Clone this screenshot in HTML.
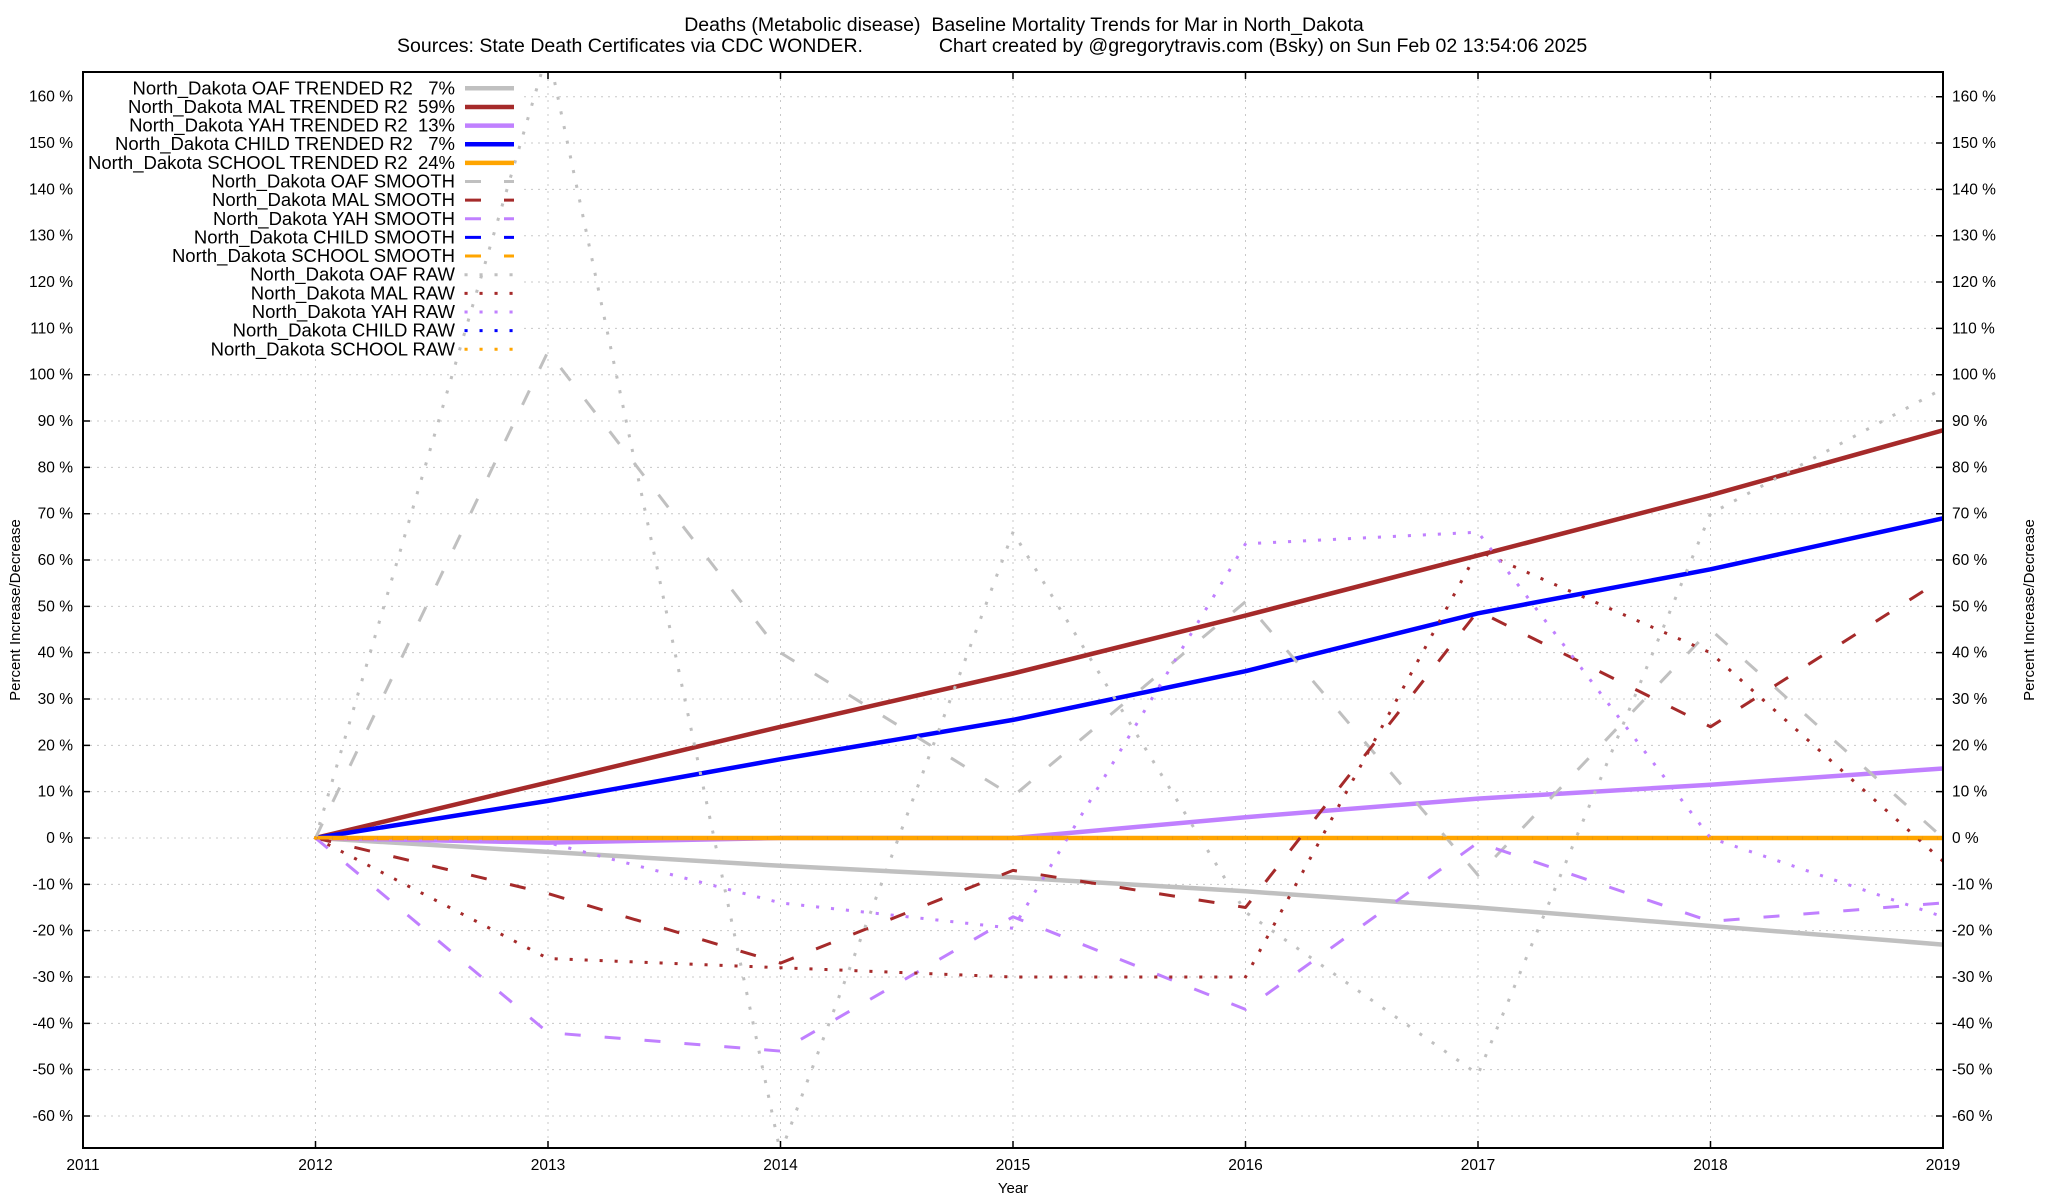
<!DOCTYPE html>
<html><head><meta charset="utf-8"><style>
html,body{margin:0;padding:0;background:#fff;}
svg{display:block;font-family:"Liberation Sans",sans-serif;}
text{white-space:pre;}
</style></head><body>
<svg id="chart" width="2048" height="1200" xmlns="http://www.w3.org/2000/svg">
<text x="1024" y="31" font-size="19.5" text-anchor="middle">Deaths (Metabolic disease)  Baseline Mortality Trends for Mar in North_Dakota</text>
<text x="397" y="52" font-size="19.5">Sources: State Death Certificates via CDC WONDER.              Chart created by @gregorytravis.com (Bsky) on Sun Feb 02 13:54:06 2025</text>
<text x="1013" y="1193" font-size="15" text-anchor="middle">Year</text>
<text transform="translate(20,610) rotate(-90)" font-size="15" text-anchor="middle">Percent Increase/Decrease</text>
<text transform="translate(2034,610) rotate(-90)" font-size="15" text-anchor="middle">Percent Increase/Decrease</text>
<g id="grid"></g><g id="axes"></g><g id="legendbg"></g><g id="series"></g><g id="legend"></g>
<rect x="83" y="72" width="1860" height="1076" fill="none" stroke="#000" stroke-width="2"/>
</svg>
<script>
const years = [2012,2013,2014,2015,2016,2017,2018,2019];
const xTicks = [2011,2012,2013,2014,2015,2016,2017,2018,2019];
const yTicks = [-60,-50,-40,-30,-20,-10,0,10,20,30,40,50,60,70,80,90,100,110,120,130,140,150,160];
const oafTrend = [0,-3,-6,-8.5,-11.5,-15,-19,-23];
const malTrend = [0,12,24,35.5,48,61,74,88];
const yahTrend = [0,-1,0,0,4.5,8.5,11.5,15];
const childTrend = [0,8,17,25.5,36,48.5,58,69];
const schoolTrend = [0,0,0,0,0,0,0,0];
const oafSmooth = [0,105,40,9,51,-8,45,0];
const malSmooth = [0,-12,-27,-7,-15,49,24,56];
const yahSmooth = [0,-42,-46,-17,-37,-1,-18,-14];
const childSmooth = [0,0,0,0,0,0,0,0];
const schoolSmooth = [0,0,0,0,0,0,0,0];
const oafRaw = [0,170,-68,66,-16,-51,70,97];
const malRaw = [0,-26,-28,-30,-30,62,40,-5];
const yahRaw = [0,-1,-14,-19.5,63.5,66,0,-17];
const childRaw = [0,0,0,0,0,0,0,0];
const schoolRaw = [0,0,0,0,0,0,0,0];

const L=83,R=1943,T=72,B=1148;
const xS=y=>L+(y-2011)*(R-L)/8;
const yS=v=>838-v*4.633;
const NS="http://www.w3.org/2000/svg";
function mk(tag,attrs,parent){const e=document.createElementNS(NS,tag);for(const k in attrs)e.setAttribute(k,attrs[k]);parent.appendChild(e);return e;}
const grid=document.getElementById('grid'),axes=document.getElementById('axes');
xTicks.forEach(t=>{
  const x=xS(t);
  const g=mk('line',{x1:x,x2:x,y1:T,y2:B,stroke:'#c8c8c8','stroke-width':1,'stroke-dasharray':'2 5'},grid);
  
  
  const tk=mk('path',{d:`M${x} ${B}v-7M${x} ${T}v7`,stroke:'#000','stroke-width':1.5},axes);
  
  
  const lb=mk('text',{x:x,y:1170,'font-size':15.5,'text-anchor':'middle'},axes);
  lb.textContent=t;
  
  
});
yTicks.forEach(t=>{
  const y=yS(t);
  const g=mk('line',{x1:L,x2:R,y1:y,y2:y,stroke:'#c8c8c8','stroke-width':1,'stroke-dasharray':'2 5'},grid);
  
  
  const tk=mk('path',{d:`M${L} ${y}h7M${R} ${y}h-7`,stroke:'#000','stroke-width':1.5},axes);
  
  
  const a=mk('text',{x:73,y:y+5,'font-size':15.5,'text-anchor':'end'},axes);
  a.textContent=t+' %';
  
  
  const b=mk('text',{x:1952,y:y+5,'font-size':15.5},axes);
  b.textContent=t+' %';
  
  
});
const lbg=mk('rect',{x:84,y:73,width:437,height:282,fill:'#fff'},document.getElementById('legendbg'));



const defs=mk('defs',{},document.getElementById('chart'));
const cp=mk('clipPath',{id:'clip'},defs);
mk('rect',{x:L,y:T,width:R-L,height:B-T},cp);

const C={oaf:'#c0c0c0',mal:'#a52a2a',yah:'#c080ff',child:'#0000ff',school:'#ffa500'};
const styles={trend:{w:4.5,d:null},smooth:{w:3,d:'16 24'},raw:{w:3,d:'0.1 14.9'}};
const series=[
 ['North_Dakota OAF TRENDED R2   7%',oafTrend,C.oaf,'trend','oaf-trend'],
 ['North_Dakota MAL TRENDED R2  59%',malTrend,C.mal,'trend','mal-trend'],
 ['North_Dakota YAH TRENDED R2  13%',yahTrend,C.yah,'trend','yah-trend'],
 ['North_Dakota CHILD TRENDED R2   7%',childTrend,C.child,'trend','child-trend'],
 ['North_Dakota SCHOOL TRENDED R2  24%',schoolTrend,C.school,'trend','school-trend'],
 ['North_Dakota OAF SMOOTH',oafSmooth,C.oaf,'smooth','oaf-smooth'],
 ['North_Dakota MAL SMOOTH',malSmooth,C.mal,'smooth','mal-smooth'],
 ['North_Dakota YAH SMOOTH',yahSmooth,C.yah,'smooth','yah-smooth'],
 ['North_Dakota CHILD SMOOTH',childSmooth,C.child,'smooth','child-smooth'],
 ['North_Dakota SCHOOL SMOOTH',schoolSmooth,C.school,'smooth','school-smooth'],
 ['North_Dakota OAF RAW',oafRaw,C.oaf,'raw','oaf-raw'],
 ['North_Dakota MAL RAW',malRaw,C.mal,'raw','mal-raw'],
 ['North_Dakota YAH RAW',yahRaw,C.yah,'raw','yah-raw'],
 ['North_Dakota CHILD RAW',childRaw,C.child,'raw','child-raw'],
 ['North_Dakota SCHOOL RAW',schoolRaw,C.school,'raw','school-raw']
];
const sg=document.getElementById('series'),lg=document.getElementById('legend');
sg.setAttribute('clip-path','url(#clip)');
series.forEach((s,i)=>{
  const [label,vals,col,kind,name]=s;const st=styles[kind];
  const pts=vals.map((v,j)=>xS(years[j]).toFixed(1)+','+yS(v).toFixed(1)).join(' ');
  const a={points:pts,fill:'none',stroke:col,'stroke-width':st.w,'stroke-linejoin':'round'};
  if(st.d){a['stroke-dasharray']=st.d;}
  if(kind==='raw'){a['stroke-linecap']='square';}
  const p=mk('polyline',a,sg);
  
  
  const y=88.3+i*18.64;
  const t=mk('text',{x:455,y:y+6,'font-size':18.5,'text-anchor':'end'},lg);
  t.textContent=label;
  
  
  const la={x1:465,x2:514,y1:y,y2:y,stroke:col,'stroke-width':st.w};
  if(kind==='smooth')la['stroke-dasharray']='16 23';
  if(kind==='raw'){la['stroke-dasharray']='0.1 14.9';la['stroke-linecap']='square';la.x1=466;}
  const ln=mk('line',la,lg);
  
  
});
</script>
</body></html>
